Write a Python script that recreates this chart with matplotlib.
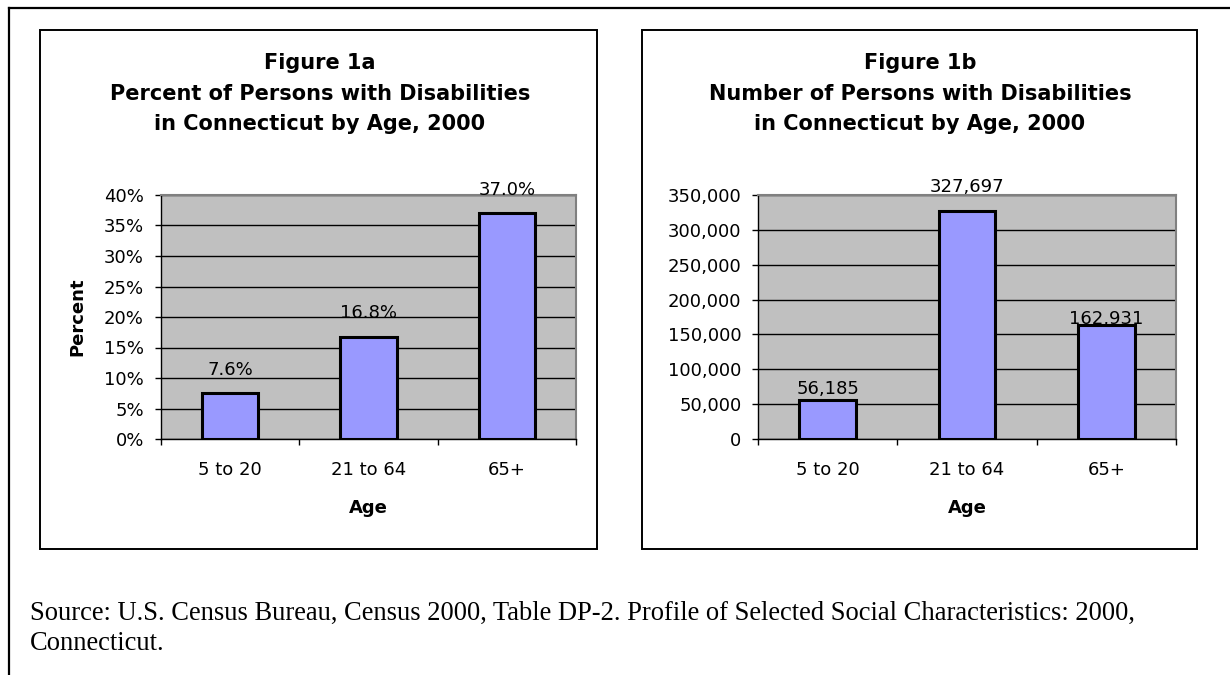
import matplotlib
matplotlib.use("Agg")
import matplotlib.pyplot as plt
from matplotlib.patches import Rectangle
from matplotlib.lines import Line2D
from matplotlib.ticker import FuncFormatter

# ---------------- data ----------------
categories = ["5 to 20", "21 to 64", "65+"]
percent_values = [7.6, 16.8, 37.0]
count_values = [56185, 327697, 162931]
percent_ticks = [0, 5, 10, 15, 20, 25, 30, 35, 40]
count_ticks = [0, 50000, 100000, 150000, 200000, 250000, 300000, 350000]
title_a = ["Figure 1a", "Percent of Persons with Disabilities", "in Connecticut by Age, 2000"]
title_b = ["Figure 1b", "Number of Persons with Disabilities", "in Connecticut by Age, 2000"]
xlabel = "Age"
ylabel_a = "Percent"
source_lines = ["Source: U.S. Census Bureau, Census 2000, Table DP-2. Profile of Selected Social Characteristics: 2000,",
                "Connecticut."]

# ---------------- style / layout ----------------
W, H = 1230, 675
DPI = 100
FS = 13
label_offsets_a = [23, 24, 23]   # px, label centre above bar top
label_offsets_b = [11, 24, 6]

def fx(x):
    return x / W

def fy(y):
    return 1 - y / H

fig = plt.figure(figsize=(W / DPI, H / DPI), dpi=DPI)
fig.patch.set_facecolor("white")

# outer frame (top + left)
fig.add_artist(Line2D([fx(9), fx(9)], [fy(8), 0], transform=fig.transFigure, color="black", lw=1.6))
fig.add_artist(Line2D([fx(9), 1], [fy(8), fy(8)], transform=fig.transFigure, color="black", lw=1.6))

# panel boxes
for (x0, x1) in [(40, 597), (642, 1197)]:
    fig.add_artist(Rectangle((fx(x0), fy(549)), fx(x1) - fx(x0), fy(30) - fy(549),
                             transform=fig.transFigure, fill=False, ec="black", lw=1.4))

def make_axes(px0, px1, values, ticks, fmt, offsets, label_fmt, pad_y):
    ax = fig.add_axes([fx(px0), fy(439), fx(px1) - fx(px0), fy(195) - fy(439)])
    ax.set_facecolor("#C0C0C0")
    x = list(range(len(categories)))
    ax.bar(x, values, width=0.405, color="#9999FF", edgecolor="black", lw=2.2, zorder=3)
    ax.set_xlim(-0.5, len(categories) - 0.5)
    ax.set_ylim(ticks[0], ticks[-1])
    ax.set_yticks(ticks)
    ax.yaxis.set_major_formatter(FuncFormatter(fmt))
    ax.yaxis.grid(True, color="black", lw=1)
    ax.set_axisbelow(True)
    ax.set_xticks(x)
    ax.set_xticklabels(categories)
    ax.set_xticks([i - 0.5 for i in range(len(categories) + 1)], minor=True)
    ax.tick_params(axis="x", which="major", length=0, pad=15.5, labelsize=FS)
    ax.tick_params(axis="x", which="minor", length=4, width=1, direction="out", color="black")
    ax.tick_params(axis="y", length=4.3, width=1, direction="out", pad=pad_y, labelsize=FS)
    for s in ["top", "right"]:
        ax.spines[s].set_color("#808080")
        ax.spines[s].set_linewidth(1.5)
    for s in ["left", "bottom"]:
        ax.spines[s].set_color("black")
        ax.spines[s].set_linewidth(1)
    for xi, v, off in zip(x, values, offsets):
        ax.annotate(label_fmt(v), (xi, v), xytext=(0, off * 72 / DPI), textcoords="offset points",
                    ha="center", va="center", fontsize=FS, zorder=5, annotation_clip=False)
    return ax

ax_a = make_axes(161, 576, percent_values, percent_ticks, lambda v, p: f"{v:.0f}%",
                 label_offsets_a, lambda v: f"{v:.1f}%", 8)
ax_b = make_axes(758, 1176, count_values, count_ticks, lambda v, p: f"{v:,.0f}",
                 label_offsets_b, lambda v: f"{v:,.0f}", 7.5)

# titles
for cx, lines in [(320, title_a), (920, title_b)]:
    for yb, t in zip([69, 100, 130], lines):
        fig.text(fx(cx), fy(yb), t, ha="center", va="baseline", fontsize=15, fontweight="bold")

# axis labels
fig.text(fx(368), fy(508), xlabel, ha="center", va="center", fontsize=FS, fontweight="bold")
fig.text(fx(967), fy(508), xlabel, ha="center", va="center", fontsize=FS, fontweight="bold")
fig.text(fx(77), fy(317), ylabel_a, ha="center", va="center", rotation=90, fontsize=FS, fontweight="bold")

# source
for yb, t in zip([620, 650], source_lines):
    fig.text(fx(30), fy(yb), t, ha="left", va="baseline", fontsize=19.1,
             family=["Liberation Serif", "DejaVu Serif"])

fig.savefig("out.png", dpi=DPI)
